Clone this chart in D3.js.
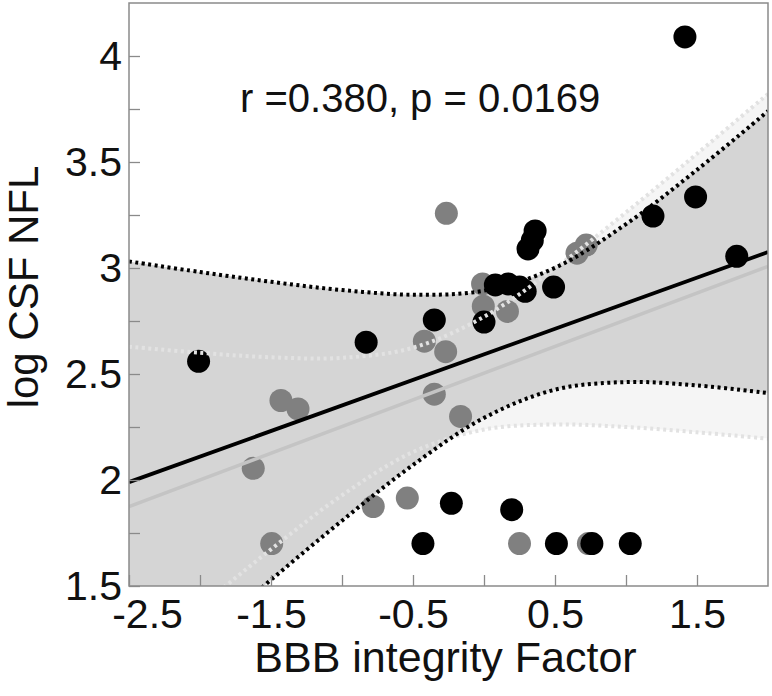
<!DOCTYPE html>
<html><head><meta charset="utf-8">
<script src="https://cdn.jsdelivr.net/npm/d3@7"></script>
<style>html,body{margin:0;padding:0;background:#fff;} svg{display:block;}</style>
</head><body><div id="chart"></div>
<script>
// ---- data ----
const blackX = [-2.01, -0.83, -0.35, 0.00, 0.08, 0.17, 0.25, 0.29, 0.49, 0.31, 0.34, 0.36, 1.19, 1.49, 1.78, 1.415, -0.23, 0.195, -0.43, 0.51, 0.76, 1.03];
const blackY = [2.56, 2.65, 2.755, 2.745, 2.92, 2.925, 2.91, 2.89, 2.91, 3.09, 3.13, 3.175, 3.245, 3.335, 3.055, 4.09, 1.89, 1.86, 1.70, 1.70, 1.70, 1.70];
const grayX = [-1.625, -1.495, -1.43, -1.31, -0.78, -0.54, -0.42, -0.35, -0.27, -0.265, -0.165, -0.01, -0.005, 0.165, 0.25, 0.655, 0.72, 0.735];
const grayY = [2.055, 1.70, 2.375, 2.335, 1.875, 1.915, 2.655, 2.405, 2.605, 3.258, 2.30, 2.925, 2.82, 2.795, 1.70, 3.07, 3.108, 1.70];

const fitX = [-2.5, 2.0];
const blackFit = [1.99, 3.075];
const grayFit = [1.874, 3.008];

const ciX = [-2.5, -2.0, -1.5, -1.0, -0.5, 0, 0.5, 1.0, 1.5, 2.0];
const blackUpper = [3.031, 2.981, 2.935, 2.896, 2.874, 2.893, 3.001, 3.207, 3.463, 3.740];
const blackLower = [0.950, 1.241, 1.529, 1.808, 2.071, 2.293, 2.426, 2.462, 2.446, 2.410];
const grayUpper = [2.629, 2.600, 2.579, 2.576, 2.624, 2.770, 2.999, 3.262, 3.539, 3.821];
const grayLower = [1.119, 1.400, 1.673, 1.928, 2.132, 2.238, 2.262, 2.250, 2.225, 2.195];

const xTicks = [-2.5, -2, -1.5, -1, -0.5, 0, 0.5, 1, 1.5];
const xLabels = ["-2.5", "", "-1.5", "", "-0.5", "", "0.5", "", "1.5"];
const yTicks = [1.5, 1.75, 2, 2.25, 2.5, 2.75, 3, 3.25, 3.5, 3.75, 4];
const yLabels = ["1.5", "", "2", "", "2.5", "", "3", "", "3.5", "", "4"];
const annotation = "r =0.380, p = 0.0169";
const xTitle = "BBB integrity Factor";
const yTitle = "log CSF NFL";

// ---- layout ----
const W = 772, H = 696;
const L = 129, R = 768, T = 3, B = 586;
const FONT = "'Liberation Sans', Arial, Helvetica, sans-serif";

const svg = d3.select("#chart").append("svg").attr("width", W).attr("height", H)
  .style("background", "#fff");

const x = d3.scaleLinear().domain([-2.5, 2.0]).range([L, R]);
const y = d3.scaleLinear().domain([1.5, 4.25]).range([B, T]);

svg.append("defs").append("clipPath").attr("id", "plotclip")
  .append("rect").attr("x", L).attr("y", T).attr("width", R - L).attr("height", B - T);

const plot = svg.append("g").attr("clip-path", "url(#plotclip)");

const band = (up, lo) => d3.area()
  .x((d, i) => x(ciX[i]))
  .y0((d, i) => y(lo[i]))
  .y1((d, i) => y(up[i]))
  .curve(d3.curveCatmullRom.alpha(0.5));
const curve = (vals) => d3.line()
  .x((d, i) => x(ciX[i]))
  .y((d, i) => y(vals[i]))
  .curve(d3.curveCatmullRom.alpha(0.5));

plot.append("path").datum(ciX).attr("d", band(grayUpper, grayLower)).attr("fill", "#f5f5f5");
plot.append("path").datum(ciX).attr("d", band(blackUpper, blackLower)).attr("fill", "#d5d5d5");

// points
plot.selectAll("circle.gray").data(grayX).enter().append("circle").attr("class", "gray")
  .attr("cx", (d) => x(d)).attr("cy", (d, i) => y(grayY[i])).attr("r", 11.5).attr("fill", "#808080");
plot.selectAll("circle.black").data(blackX).enter().append("circle").attr("class", "black")
  .attr("cx", (d) => x(d)).attr("cy", (d, i) => y(blackY[i])).attr("r", 11.5).attr("fill", "#000");

// fit lines
const fitLine = (vals) => d3.line().x((d, i) => x(fitX[i])).y((d, i) => y(vals[i]));
plot.append("path").datum(fitX).attr("d", fitLine(grayFit)).attr("fill", "none")
  .attr("stroke", "#c4c4c4").attr("stroke-width", 3.5);
plot.append("path").datum(fitX).attr("d", fitLine(blackFit)).attr("fill", "none")
  .attr("stroke", "#000").attr("stroke-width", 3.8);

// dotted CI lines
[grayUpper, grayLower].forEach(v => {
  plot.append("path").datum(ciX).attr("d", curve(v)).attr("fill", "none")
    .attr("stroke", "#e2e2e2").attr("stroke-width", 4).attr("stroke-dasharray", "3,3.5");
});
[blackUpper, blackLower].forEach(v => {
  plot.append("path").datum(ciX).attr("d", curve(v)).attr("fill", "none")
    .attr("stroke", "#000").attr("stroke-width", 4).attr("stroke-dasharray", "3,3.5");
});

// axes
const xAxis = d3.axisBottom(x).tickValues(xTicks)
  .tickFormat((d, i) => xLabels[i]).tickSizeInner(-11).tickSizeOuter(0).tickPadding(13);
const gx = svg.append("g").attr("transform", `translate(0,${B})`).call(xAxis);
const yAxis = d3.axisLeft(y).tickValues(yTicks)
  .tickFormat((d, i) => yLabels[i]).tickSizeInner(-11).tickSizeOuter(0).tickPadding(7);
const gy = svg.append("g").attr("transform", `translate(${L},0)`).call(yAxis);

[gx, gy].forEach(g => {
  g.select(".domain").remove();
  g.selectAll(".tick line").attr("stroke", "#8a8a8a").attr("stroke-width", 1.3);
  g.selectAll(".tick text").attr("fill", "#111").style("font-family", FONT).style("font-size", "41px");
});
gx.selectAll(".tick text").filter((d) => d === -2.5).attr("dx", 18);

// border
svg.append("rect").attr("x", L).attr("y", T).attr("width", R - L).attr("height", B - T)
  .attr("fill", "none").attr("stroke", "#8a8a8a").attr("stroke-width", 1.5);

// annotation
svg.append("text").attr("x", 240).attr("y", 112).text(annotation)
  .attr("fill", "#111").style("font-family", FONT).style("font-size", "40px");

// titles
svg.append("text").attr("x", (L + R) / 2 - 3).attr("y", 672).attr("text-anchor", "middle")
  .text(xTitle).attr("fill", "#111").style("font-family", FONT).style("font-size", "43px");
svg.append("text").attr("transform", `translate(38,${287}) rotate(-90)`).attr("text-anchor", "middle")
  .text(yTitle).attr("fill", "#111").style("font-family", FONT).style("font-size", "42px");
</script>
</body></html>
